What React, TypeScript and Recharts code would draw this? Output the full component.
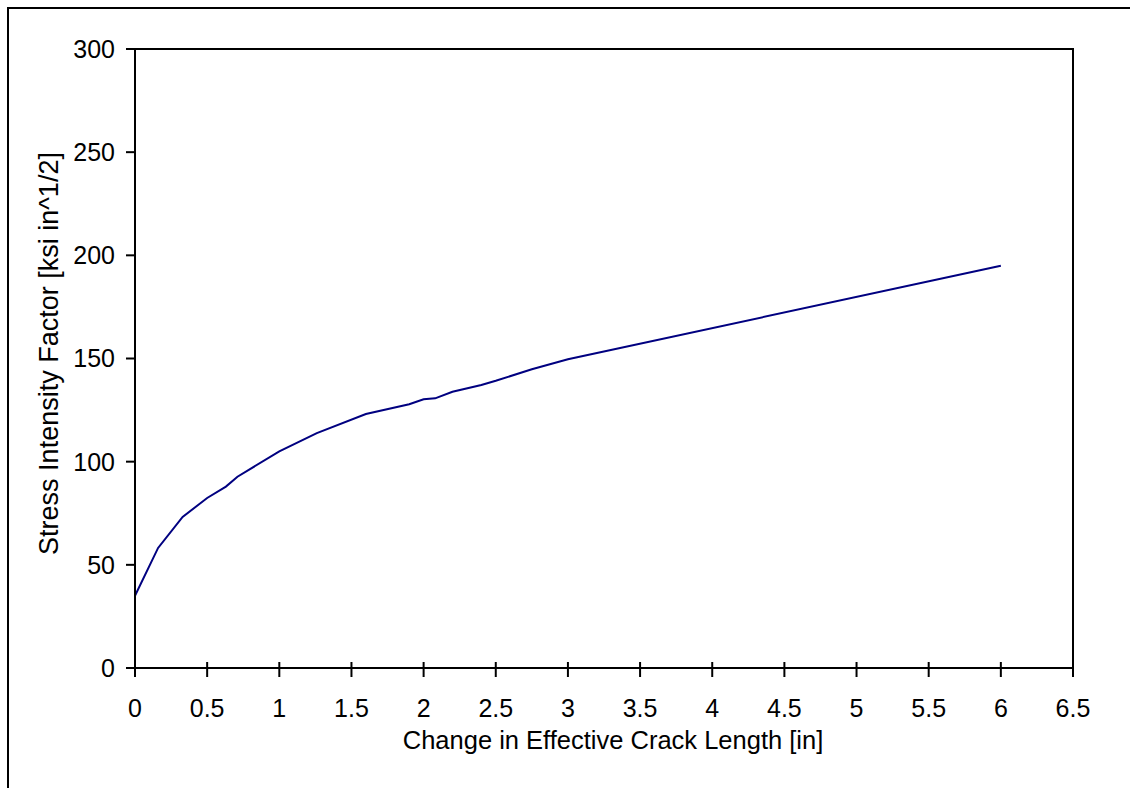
import React from "react";
import {Line, LineChart, ReferenceArea, XAxis, YAxis} from "recharts";

// crack growth vs. stress intensity
const crackLength = [0, 0.16, 0.33, 0.5, 0.63, 0.71, 1.0, 1.26, 1.6, 1.9, 2.0, 2.08, 2.2, 2.4, 2.5, 2.75, 3.0, 6.0];
const stressIntensity = [35, 58.2, 73.2, 82.4, 87.9, 92.7, 105, 113.8, 123.1, 127.8, 130.2, 130.7, 133.9, 137.2, 139.2, 144.8, 149.6, 195];

const xTicks = [0, 0.5, 1, 1.5, 2, 2.5, 3, 3.5, 4, 4.5, 5, 5.5, 6, 6.5];
const yTicks = [0, 50, 100, 150, 200, 250, 300];

const FONT = '"Liberation Sans", Arial, sans-serif';
const TICK_SIZE = 25;
const TITLE_SIZE = 25.5;

const data = crackLength.map((x, i) => ({x, k: stressIntensity[i]}));

const hidden = () => <g/>;

export default function App() {
    return (
        <div style={{position: "absolute", left: 0, top: 0, width: 1130, height: 788, background: "#fff", overflow: "hidden"}}>
            <div
                style={{
                    position: "absolute",
                    left: 7,
                    top: 7,
                    width: 1140,
                    height: 800,
                    borderLeft: "2px solid #000",
                    borderTop: "2px solid #000",
                }}
            />
            <div style={{position: "absolute", left: 0, top: 0}}>
                <LineChart
                    width={1130}
                    height={788}
                    data={data}
                    margin={{top: 49, right: 57, left: 0, bottom: 0}}
                    style={{fontFamily: FONT}}
                >
                    <ReferenceArea
                        xAxisId="main"
                        yAxisId="main"
                        x1={0}
                        x2={6.5}
                        y1={0}
                        y2={300}
                        fill="none"
                        stroke="#000"
                        strokeWidth={2}
                        ifOverflow="visible"
                    />
                    {/* inner halves of the crossing tick marks */}
                    <XAxis
                        xAxisId="inner"
                        dataKey="x"
                        type="number"
                        domain={[0, 6.5]}
                        ticks={xTicks}
                        orientation="bottom"
                        mirror
                        height={120}
                        axisLine={false}
                        tickSize={6}
                        tickLine={{stroke: "#000", strokeWidth: 2}}
                        tick={hidden}
                    />
                    <YAxis
                        yAxisId="inner"
                        type="number"
                        domain={[0, 300]}
                        ticks={yTicks}
                        mirror
                        width={135}
                        axisLine={false}
                        tickSize={8}
                        tickLine={{stroke: "#000", strokeWidth: 2}}
                        tick={hidden}
                    />
                    <XAxis
                        xAxisId="main"
                        dataKey="x"
                        type="number"
                        domain={[0, 6.5]}
                        ticks={xTicks}
                        height={120}
                        axisLine={{stroke: "#000", strokeWidth: 2}}
                        tickLine={{stroke: "#000", strokeWidth: 2}}
                        tickSize={9}
                        tickMargin={22}
                        tick={{fill: "#000", fontSize: TICK_SIZE, fontFamily: FONT}}
                        label={{
                            value: "Change in Effective Crack Length [in]",
                            position: "insideBottom",
                            offset: 39,
                            dx: 9,
                            fill: "#000",
                            fontSize: TITLE_SIZE,
                            fontFamily: FONT,
                        }}
                    />
                    <YAxis
                        yAxisId="main"
                        type="number"
                        domain={[0, 300]}
                        ticks={yTicks}
                        width={135}
                        axisLine={{stroke: "#000", strokeWidth: 2}}
                        tickLine={{stroke: "#000", strokeWidth: 2}}
                        tickSize={9}
                        tickMargin={11}
                        tick={{fill: "#000", fontSize: TICK_SIZE, fontFamily: FONT}}
                        label={{
                            value: "Stress Intensity Factor [ksi in^1/2]",
                            angle: -90,
                            position: "insideLeft",
                            offset: 48,
                            dy: -5,
                            fill: "#000",
                            fontSize: 27,
                            fontFamily: FONT,
                            style: {textAnchor: "middle"},
                        }}
                    />
                    <Line
                        xAxisId="main"
                        yAxisId="main"
                        type="linear"
                        dataKey="k"
                        stroke="#000080"
                        strokeWidth={2}
                        dot={false}
                        activeDot={false}
                        isAnimationActive={false}
                    />
                </LineChart>
            </div>
        </div>
    );
}
